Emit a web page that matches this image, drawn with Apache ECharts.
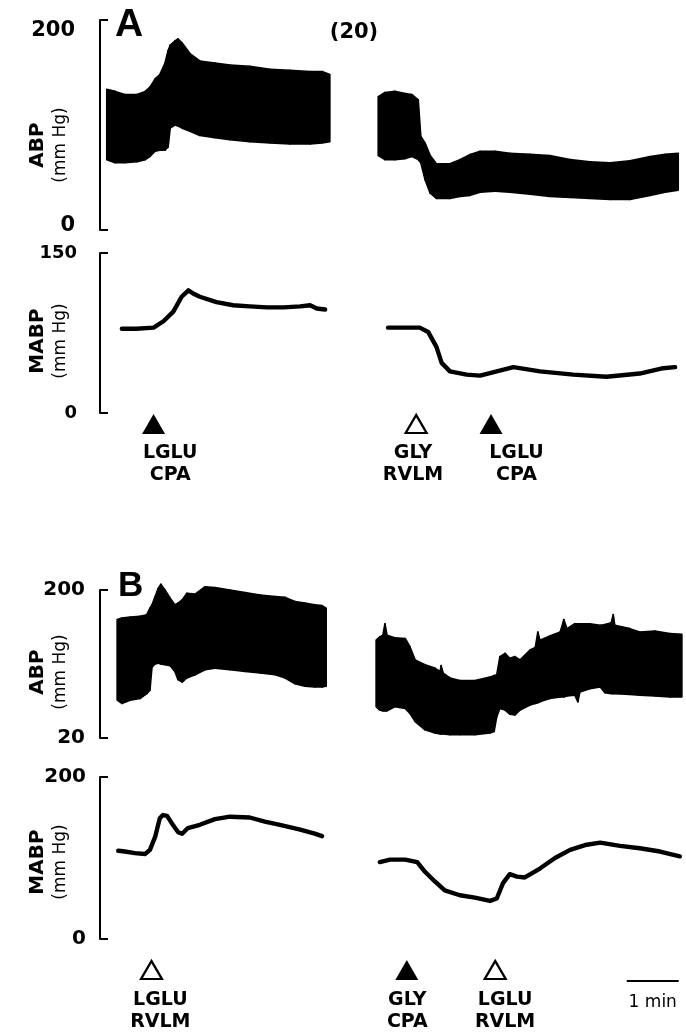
<!DOCTYPE html>
<html>
<head>
<meta charset="utf-8">
<title>ABP / MABP traces</title>
<script src="https://cdn.jsdelivr.net/npm/echarts@6/dist/echarts.min.js"></script>
<style>
  html, body { margin: 0; padding: 0; background: #fff; }
  #chart { width: 686px; height: 1036px; }
</style>
</head>
<body>
<div id="chart"></div>
<script>
// time axis in minutes from the start of the trace area (scale bar = 1 min)

// ---- A: ABP band (upper / lower envelope), before and after GLY
const aAbpT1 = [0.13, 0.29, 0.48, 0.71, 0.87, 0.96, 1.06, 1.15, 1.25, 1.31, 1.35, 1.44, 1.50, 1.58, 1.73, 1.92, 2.21, 2.50, 2.88, 3.27, 3.65, 4.04, 4.27, 4.42];
const aAbpHi1 = [134, 132, 129, 129, 132, 136, 144, 148, 159, 171, 176, 180, 182, 178, 168, 161, 159, 157, 156, 153, 152, 151, 151, 148];
const aAbpLo1 = [67, 64, 64, 65, 67, 70, 75, 76, 76, 79, 97, 100, 99, 97, 94, 90, 88, 86, 84, 83, 82, 82, 83, 84];
const aAbpT2 = [5.35, 5.48, 5.67, 5.87, 6.00, 6.12, 6.17, 6.25, 6.35, 6.47, 6.73, 6.92, 7.12, 7.31, 7.60, 7.88, 8.27, 8.65, 9.04, 9.42, 9.81, 10.19, 10.58, 10.87, 11.12];
const aAbpHi2 = [127, 131, 132, 130, 129, 124, 89, 83, 71, 63, 63, 67, 72, 75, 75, 73, 72, 71, 67, 65, 64, 66, 70, 72, 73];
const aAbpLo2 = [71, 67, 67, 68, 70, 67, 64, 48, 35, 30, 30, 32, 33, 36, 37, 36, 34, 32, 31, 30, 29, 29, 33, 36, 38];

// ---- A: MABP
const aMapT1 = [0.42, 0.70, 1.03, 1.22, 1.41, 1.57, 1.70, 1.79, 1.92, 2.24, 2.56, 2.88, 3.21, 3.53, 3.85, 4.04, 4.17, 4.33];
const aMap1 = [79, 79, 80, 86, 95, 109, 115, 112, 109, 104, 101, 100, 99, 99, 100, 101, 98, 97];
const aMapT2 = [5.54, 6.15, 6.31, 6.47, 6.57, 6.73, 7.05, 7.31, 7.63, 7.95, 8.46, 9.10, 9.74, 10.38, 10.83, 11.06];
const aMap2 = [80, 80, 76, 62, 47, 39, 36, 35, 39, 43, 39, 36, 34, 37, 42, 43];

// ---- A: injections
const aEvT = [1.03, 6.08, 7.52];
const aEvFilled = [true, false, true];
const aEvLabelT = [1.35, 6.02, 8.01];
const aEvDrug = ['LGLU', 'GLY', 'LGLU'];
const aEvSite = ['CPA', 'RVLM', 'CPA'];

// ---- B: ABP band
const bAbpT1 = [0.33, 0.42, 0.58, 0.77, 0.90, 0.96, 1.00, 1.06, 1.12, 1.17, 1.25, 1.35, 1.44, 1.50, 1.58, 1.67, 1.83, 2.02, 2.21, 2.50, 2.79, 3.08, 3.37, 3.56, 3.75, 3.94, 4.13, 4.27, 4.35];
const bAbpHi1 = [164, 166, 167, 168, 170, 178, 182, 192, 202, 207, 200, 190, 182, 184, 188, 196, 195, 204, 203, 200, 197, 194, 192, 191, 186, 184, 182, 181, 178];
const bAbpLo1 = [66, 62, 66, 68, 74, 78, 106, 110, 111, 110, 109, 108, 101, 91, 88, 93, 97, 103, 105, 103, 101, 99, 97, 93, 86, 83, 82, 82, 83];
const bAbpT2 = [5.31, 5.38, 5.44, 5.48, 5.52, 5.67, 5.87, 5.96, 6.06, 6.25, 6.44, 6.54, 6.56, 6.60, 6.73, 6.92, 7.21, 7.50, 7.58, 7.63, 7.69, 7.79, 7.88, 7.98, 8.08, 8.27, 8.37, 8.42, 8.46, 8.65, 8.85, 8.92, 8.98, 9.13, 9.19, 9.23, 9.42, 9.62, 9.71, 9.83, 9.87, 9.90, 10.19, 10.38, 10.67, 10.96, 11.19];
const bAbpHi2 = [139, 143, 145, 159, 145, 142, 141, 131, 115, 109, 105, 101, 108, 99, 93, 90, 90, 94, 96, 97, 119, 123, 117, 119, 115, 127, 130, 149, 139, 144, 149, 164, 153, 159, 159, 159, 159, 157, 158, 160, 170, 157, 153, 149, 150, 147, 146];
const bAbpLo2 = [58, 54, 53, 53, 53, 58, 56, 50, 40, 30, 26, 25, 25, 25, 24, 24, 24, 26, 28, 46, 56, 54, 49, 48, 54, 60, 62, 63, 64, 68, 70, 70, 71, 72, 64, 76, 80, 82, 75, 74, 74, 74, 73, 72, 71, 70, 70];

// ---- B: MABP
const bMapT1 = [0.35, 0.48, 0.67, 0.87, 0.96, 1.06, 1.15, 1.21, 1.29, 1.38, 1.50, 1.58, 1.69, 1.92, 2.21, 2.50, 2.88, 3.17, 3.46, 3.85, 4.13, 4.27];
const bMap1 = [109, 108, 106, 105, 110, 126, 149, 153, 152, 143, 132, 130, 137, 141, 148, 151, 150, 145, 141, 135, 130, 127];
const bMapT2 = [5.38, 5.58, 5.87, 6.10, 6.25, 6.44, 6.63, 6.92, 7.21, 7.50, 7.63, 7.75, 7.88, 8.02, 8.17, 8.46, 8.75, 9.04, 9.33, 9.62, 10.00, 10.38, 10.77, 11.15];
const bMap2 = [95, 98, 98, 95, 83, 71, 60, 54, 51, 47, 50, 69, 80, 77, 76, 87, 100, 110, 116, 119, 115, 112, 108, 102];

// ---- B: injections and time scale
const bEvT = [0.99, 5.90, 7.60];
const bEvFilled = [false, true, false];
const bEvLabelT = [1.16, 5.91, 7.79];
const bEvDrug = ['LGLU', 'GLY', 'LGLU'];
const bEvSite = ['RVLM', 'CPA', 'RVLM'];
const scaleBar = [10.13, 11.13];

const xMax = 11.25;
const FONT = 'DejaVu Sans';

function pairs(ts, vs) {
  return ts.map(function (t, i) { return [t, vs[i]]; });
}

// pulsatile pressure: filled band between lower and upper envelope,
// one quad per pair of neighbouring samples
function band(gi, ts, hi, lo) {
  var data = [];
  for (var i = 0; i < ts.length - 1; i++) {
    data.push([ts[i], hi[i], lo[i], ts[i + 1], hi[i + 1], lo[i + 1]]);
  }
  return {
    type: 'custom', coordinateSystem: 'cartesian2d', xAxisIndex: gi, yAxisIndex: gi,
    silent: true, clip: false,
    encode: { x: [0, 3], y: [1, 2, 4, 5] },
    data: data,
    renderItem: function (params, api) {
      var pts = [
        api.coord([api.value(0), api.value(1)]),
        api.coord([api.value(3), api.value(4)]),
        api.coord([api.value(3), api.value(5)]),
        api.coord([api.value(0), api.value(2)])
      ];
      return {
        type: 'polygon',
        shape: { points: pts },
        style: { fill: '#000', stroke: '#000', lineWidth: 1.6, lineJoin: 'round' }
      };
    }
  };
}

function trace(gi, ts, vs) {
  return {
    type: 'line', xAxisIndex: gi, yAxisIndex: gi, symbol: 'none', clip: false, silent: true,
    data: pairs(ts, vs),
    lineStyle: { color: '#000', width: 4.4, cap: 'round', join: 'round', opacity: 1 }
  };
}

function events(gi, ts, filled, lblT, drugs, sites, dist) {
  return [{
    type: 'scatter', xAxisIndex: gi, yAxisIndex: gi, silent: true, symbol: 'triangle',
    data: ts.map(function (t, i) {
      return {
        value: [t, 0.5],
        symbolSize: filled[i] ? [23, 20] : [21, 18],
        itemStyle: filled[i]
          ? { color: '#000', opacity: 1 }
          : { color: '#fff', borderColor: '#000', borderWidth: 2.2, opacity: 1 }
      };
    })
  }, {
    type: 'scatter', xAxisIndex: gi, yAxisIndex: gi, silent: true, symbolSize: 0,
    itemStyle: { opacity: 1 },
    data: lblT.map(function (t, i) { return { value: [t, 0.5], name: drugs[i] + '\n' + sites[i] }; }),
    label: {
      show: true, position: 'bottom', distance: dist, formatter: '{b}', align: 'center', opacity: 1,
      color: '#000', fontFamily: FONT, fontWeight: 'bold', fontSize: 19, lineHeight: 22
    }
  }];
}

function pressureAxis(gi, min, max, name, fontSize, offset, margin, nameGap, shift, rich) {
  var ax = {
    type: 'value', gridIndex: gi, min: min, max: max, offset: offset,
    axisLine: { show: true, lineStyle: { color: '#000', width: 2 } },
    axisTick: { show: true, inside: true, length: 8, customValues: [min, max], lineStyle: { color: '#000', width: 2 } },
    axisLabel: {
      show: true, customValues: [min, max], margin: margin, color: '#000',
      fontFamily: FONT, fontWeight: 'bold', fontSize: fontSize
    },
    splitLine: { show: false },
    name: '{t|' + name + '}\n{u|(mm Hg)}',
    nameLocation: 'middle', nameRotate: 90, nameGap: nameGap, nameMoveOverlap: false,
    nameTextStyle: {
      color: '#000', padding: [0, shift * 2, 0, 0],
      rich: {
        t: { fontFamily: FONT, fontWeight: 'bold', fontSize: 20, lineHeight: 24, color: '#000' },
        u: { fontFamily: FONT, fontSize: 17, lineHeight: 22, color: '#000' }
      }
    }
  };
  if (rich) {
    ax.axisLabel.formatter = function (v) { return v === max ? '{hi|' + v + '}' : '{lo|' + v + '}'; };
    ax.axisLabel.rich = { hi: { padding: [22, 0, 0, 0] }, lo: { padding: [0, 0, 8, 0] } };
  }
  return ax;
}

function hiddenAxis(gi) {
  return { type: 'value', gridIndex: gi, min: 0, max: 1, show: false };
}

var gridTops = [20, 253, 413, 590, 777, 959];
var gridHeights = [210, 160, 22, 148, 162, 22];

var chart = echarts.init(document.getElementById('chart'));
chart.setOption({
  animation: false,
  backgroundColor: '#fff',
  textStyle: { fontFamily: FONT },
  grid: gridTops.map(function (top, i) {
    return { left: 100, width: 585, top: top, height: gridHeights[i], containLabel: false, outerBoundsMode: 'none' };
  }),
  xAxis: gridTops.map(function (top, i) {
    return { type: 'value', gridIndex: i, min: 0, max: xMax, show: false };
  }),
  yAxis: [
    pressureAxis(0, 0, 200, 'ABP', 21, 18, 7, 10, 20, true),
    pressureAxis(1, 0, 150, 'MABP', 18, 14, 9, 14, 8, false),
    hiddenAxis(2),
    pressureAxis(3, 20, 200, 'ABP', 20, 10, 5, 18, 8, false),
    pressureAxis(4, 0, 200, 'MABP', 20, 10, 4, 18, 4, false),
    hiddenAxis(5)
  ],
  graphic: [
    { type: 'text', x: 115, y: 25, style: { text: 'A', font: 'bold 39px "Liberation Sans"', fill: '#000', textVerticalAlign: 'middle' } },
    { type: 'text', x: 118, y: 586, style: { text: 'B', font: 'bold 35px "Liberation Sans"', fill: '#000', textVerticalAlign: 'middle' } },
    { type: 'text', x: 354, y: 33, style: { text: '(20)', font: 'bold 21px "DejaVu Sans"', fill: '#000', textAlign: 'center', textVerticalAlign: 'middle' } }
  ],
  series: [
    band(0, aAbpT1, aAbpHi1, aAbpLo1),
    band(0, aAbpT2, aAbpHi2, aAbpLo2),
    trace(1, aMapT1, aMap1),
    trace(1, aMapT2, aMap2),
    band(3, bAbpT1, bAbpHi1, bAbpLo1),
    band(3, bAbpT2, bAbpHi2, bAbpLo2),
    trace(4, bMapT1, bMap1),
    trace(4, bMapT2, bMap2)
  ].concat(
    events(2, aEvT, aEvFilled, aEvLabelT, aEvDrug, aEvSite, 18),
    events(5, bEvT, bEvFilled, bEvLabelT, bEvDrug, bEvSite, 19),
    [{
      type: 'line', xAxisIndex: 5, yAxisIndex: 5, symbol: 'none', clip: false, silent: true,
      data: [[scaleBar[0], 0], [scaleBar[1], 0]],
      lineStyle: { color: '#000', width: 2, opacity: 1 }
    }, {
      type: 'scatter', xAxisIndex: 5, yAxisIndex: 5, symbolSize: 0, silent: true,
      itemStyle: { opacity: 1 },
      data: [{ value: [(scaleBar[0] + scaleBar[1]) / 2, 0], name: '1 min' }],
      label: { show: true, position: 'bottom', distance: 13, formatter: '{b}', opacity: 1, color: '#000', fontFamily: FONT, fontSize: 17 }
    }]
  )
});
</script>
</body>
</html>
